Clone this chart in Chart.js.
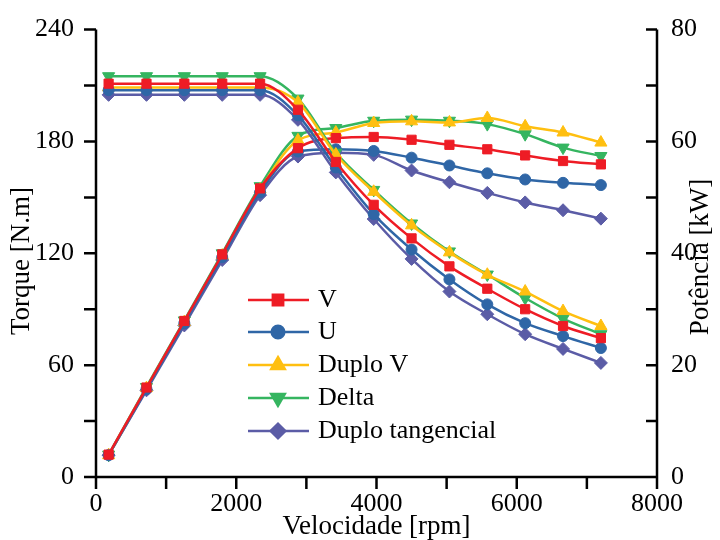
<!DOCTYPE html>
<html>
<head>
<meta charset="utf-8">
<script src="https://cdn.jsdelivr.net/npm/chart.js@4.4.0/dist/chart.umd.min.js"></script>
<style>
  body { margin: 0; background: #fff; }
  #wrap { width: 720px; height: 540px; }
</style>
</head>
<body>
<div id="wrap"><canvas id="grafico" width="720" height="540"></canvas></div>
<script>
// Velocidade [rpm]
const velocidade = [180, 720, 1260, 1800, 2340, 2880, 3420, 3960, 4500, 5040, 5580, 6120, 6660, 7200];

// Torque [N.m] (eixo esquerdo)
const torqueV       = [211, 211, 211, 211, 211, 197, 169, 146, 128, 113, 101, 90, 81, 74.5];
const torqueU       = [207.5, 207.5, 207.5, 207.5, 207.5, 194, 166, 141, 122, 106, 92.6, 82.5, 75.6, 69.2];
const torqueDuploV  = [209, 209, 209, 209, 209, 201, 173, 153, 135, 120.5, 108.5, 99.5, 89, 81];
const torqueDelta   = [215, 215, 215, 215, 215, 203, 174, 154, 136, 121, 108.6, 96, 85, 76.6];
const torqueDuploT  = [205, 205, 205, 205, 205, 191.6, 163.4, 138.4, 117, 99.5, 87.3, 76.6, 68.7, 61.2];

// Potência [kW] (eixo direito)
const potenciaV      = [4.0, 16.0, 27.9, 39.8, 51.6, 58.8, 60.6, 60.8, 60.3, 59.4, 58.6, 57.5, 56.5, 55.9];
const potenciaU      = [3.9, 15.7, 27.5, 39.3, 50.9, 58.2, 58.6, 58.3, 57.1, 55.7, 54.3, 53.2, 52.6, 52.2];
const potenciaDuploV = [3.9, 15.9, 27.7, 39.6, 51.4, 60.2, 61.6, 63.3, 63.6, 63.4, 64.2, 62.7, 61.6, 59.8];
const potenciaDelta  = [4.0, 16.1, 28.0, 40.0, 52.0, 61.0, 62.4, 63.7, 63.9, 63.7, 63.1, 61.3, 58.9, 57.4];
const potenciaDuploT = [3.9, 15.5, 27.1, 38.8, 50.4, 57.3, 58.0, 57.6, 54.8, 52.7, 50.8, 49.1, 47.7, 46.2];

// Ticks
const ticksTorque = [0, 60, 120, 180, 240];
const ticksPotencia = [0, 20, 40, 60, 80];
const ticksVelocidade = [0, 2000, 4000, 6000, 8000];

const series = [
  { nome: 'V', cor: '#ee1c25', estilo: 'rect', rot: 0, raio: 6.5, torque: torqueV, potencia: potenciaV },
  { nome: 'U', cor: '#2f66a6', estilo: 'circle', rot: 0, raio: 5.5, torque: torqueU, potencia: potenciaU },
  { nome: 'Duplo V', cor: '#ffbf10', estilo: 'triangle', rot: 0, raio: 7, torque: torqueDuploV, potencia: potenciaDuploV },
  { nome: 'Delta', cor: '#35b560', estilo: 'triangle', rot: 180, raio: 7, torque: torqueDelta, potencia: potenciaDelta },
  { nome: 'Duplo tangencial', cor: '#5b5ca6', estilo: 'rectRot', rot: 0, raio: 6.5, torque: torqueDuploT, potencia: potenciaDuploT }
];

const fonte = 'Liberation Serif';

function montarDataset(s, valores, eixo) {
  return {
    label: s.nome,
    data: velocidade.map((v, i) => ({ x: v, y: valores[i] })),
    yAxisID: eixo,
    borderColor: s.cor,
    backgroundColor: s.cor,
    borderWidth: 2.5,
    pointStyle: s.estilo,
    pointRotation: s.rot,
    pointRadius: s.raio,
    pointBorderWidth: 1,
    pointBackgroundColor: s.cor,
    pointBorderColor: s.cor,
    cubicInterpolationMode: 'monotone',
    fill: false
  };
}

const datasets = [];
series.forEach(s => datasets.push(montarDataset(s, s.torque, 'y')));
series.forEach(s => datasets.push(montarDataset(s, s.potencia, 'y1')));

// eixos, marcas, títulos e legenda
const eixosPlugin = {
  id: 'eixos',
  afterDraw(chart) {
    const ctx = chart.ctx;
    const x = chart.scales.x, y = chart.scales.y, y1 = chart.scales.y1;
    const a = chart.chartArea;
    ctx.save();
    ctx.strokeStyle = '#000';
    ctx.lineWidth = 2.5;
    ctx.lineCap = 'butt';
    ctx.beginPath();
    ctx.moveTo(a.left, a.top); ctx.lineTo(a.left, a.bottom);
    ctx.moveTo(a.right, a.top); ctx.lineTo(a.right, a.bottom);
    ctx.moveTo(a.left - 12, a.bottom); ctx.lineTo(a.right, a.bottom);
    for (let v = 30; v <= 240; v += 30) {
      const py = y.getPixelForValue(v);
      ctx.moveTo(a.left - 12, py); ctx.lineTo(a.left, py);
    }
    for (let v = 10; v <= 80; v += 10) {
      const py = y1.getPixelForValue(v);
      ctx.moveTo(a.right - 11, py); ctx.lineTo(a.right, py);
    }
    for (let v = 0; v <= 8000; v += 1000) {
      const px = x.getPixelForValue(v);
      ctx.moveTo(px, a.bottom); ctx.lineTo(px, a.bottom + 12);
    }
    ctx.stroke();

    // títulos dos eixos
    ctx.fillStyle = '#000';
    ctx.font = '27px "' + fonte + '"';
    ctx.textAlign = 'center';
    ctx.textBaseline = 'middle';
    ctx.fillText('Velocidade [rpm]', (a.left + a.right) / 2, 527);
    ctx.save();
    ctx.translate(22, 261);
    ctx.rotate(-Math.PI / 2);
    ctx.fillText('Torque [N.m]', 0, 0);
    ctx.restore();
    ctx.save();
    ctx.translate(701, 257);
    ctx.rotate(-Math.PI / 2);
    ctx.fillText('Potência [kW]', 0, 0);
    ctx.restore();

    // legenda
    ctx.font = '26px "' + fonte + '"';
    const linhas = [300, 332, 365, 398, 431];
    series.forEach((s, i) => {
      const ly = linhas[i];
      ctx.strokeStyle = s.cor;
      ctx.lineWidth = 2.5;
      ctx.beginPath();
      ctx.moveTo(248, ly); ctx.lineTo(309, ly);
      ctx.stroke();
      ctx.fillStyle = s.cor;
      Chart.helpers.drawPoint(ctx, {
        pointStyle: s.estilo, radius: s.raio + 0.8, rotation: s.rot, borderWidth: 1
      }, 278, ly);
      ctx.fillStyle = '#000';
      ctx.textAlign = 'left';
      ctx.fillText(s.nome, 318, ly);
    });
    ctx.restore();
  }
};

new Chart(document.getElementById('grafico').getContext('2d'), {
  type: 'line',
  data: { datasets: datasets },
  plugins: [eixosPlugin],
  options: {
    responsive: false,
    animation: false,
    layout: { padding: { top: 26, left: 0, right: 0, bottom: 0 } },
    plugins: { legend: { display: false }, tooltip: { enabled: false } },
    scales: {
      x: {
        type: 'linear', min: 0, max: 8000,
        afterFit: s => { s.height = 63; },
        afterBuildTicks: s => { s.ticks = ticksVelocidade.map(v => ({ value: v })); },
        grid: { display: false }, border: { display: false },
        ticks: { padding: 4, color: '#000', font: { family: fonte, size: 26 }, maxRotation: 0,
                 callback: v => String(v) }
      },
      y: {
        position: 'left', min: 0, max: 240,
        afterFit: s => { s.width = 96; },
        afterBuildTicks: s => { s.ticks = ticksTorque.map(v => ({ value: v })); },
        grid: { display: false }, border: { display: false },
        ticks: { padding: 14, color: '#000', font: { family: fonte, size: 26 }, callback: v => String(v) }
      },
      y1: {
        position: 'right', min: 0, max: 80,
        afterFit: s => { s.width = 63; },
        afterBuildTicks: s => { s.ticks = ticksPotencia.map(v => ({ value: v })); },
        grid: { display: false }, border: { display: false },
        ticks: { padding: 6, color: '#000', font: { family: fonte, size: 26 }, callback: v => String(v) }
      }
    }
  }
});
</script>
</body>
</html>
